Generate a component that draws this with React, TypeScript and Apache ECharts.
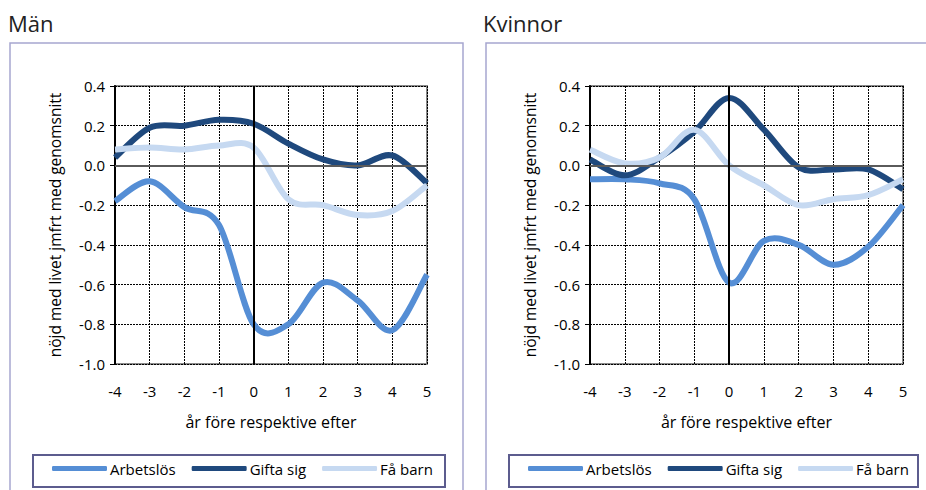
import React, { useEffect, useRef } from "react";
import * as echarts from "echarts";

const years = [-4, -3, -2, -1, 0, 1, 2, 3, 4, 5];
const seriesNames = ["Arbetslös", "Gifta sig", "Få barn"];
const seriesColors = ["#558ed5", "#1f497d", "#c6d9f1"];

const menArbetslos = [-0.18, -0.08, -0.21, -0.3, -0.8, -0.8, -0.59, -0.68, -0.83, -0.55];
const menGifta = [0.04, 0.19, 0.2, 0.23, 0.21, 0.11, 0.03, 0.0, 0.05, -0.09];
const menBarn = [0.08, 0.09, 0.08, 0.1, 0.09, -0.17, -0.2, -0.25, -0.23, -0.1];

const kvArbetslos = [-0.07, -0.07, -0.09, -0.17, -0.59, -0.38, -0.4, -0.5, -0.41, -0.2];
const kvGifta = [0.03, -0.05, 0.04, 0.17, 0.34, 0.18, -0.01, -0.02, -0.02, -0.12];
const kvBarn = [0.08, 0.01, 0.04, 0.18, 0.0, -0.1, -0.2, -0.17, -0.15, -0.07];

const panelTitles = ["Män", "Kvinnor"];
const yName = "nöjd med livet jmfrt med genomsnitt";
const xName = "år före respektive efter";

const FONT = "'Open Sans', 'Noto Sans', sans-serif";

const panels = [
  { data: [menArbetslos, menGifta, menBarn], grid: { left: 115, top: 86, width: 312, height: 278 }, box: { x: 10, y: 43, w: 453 }, legendBox: { x: 33, w: 412 }, legendLeft: 52, titleX: 8 },
  { data: [kvArbetslos, kvGifta, kvBarn], grid: { left: 590, top: 86, width: 313, height: 278 }, box: { x: 486, y: 43, w: 460 }, legendBox: { x: 509, w: 409 }, legendLeft: 528, titleX: 483 },
];

function smoothPath(pts: number[][]): string {
  const n = pts.length;
  let d = `M${pts[0][0]},${pts[0][1]}`;
  for (let i = 0; i < n - 1; i++) {
    const p0 = pts[i - 1] || pts[i];
    const p1 = pts[i];
    const p2 = pts[i + 1];
    const p3 = pts[i + 2] || pts[i + 1];
    const c1x = p1[0] + (p2[0] - p0[0]) / 6;
    const c1y = p1[1] + (p2[1] - p0[1]) / 6;
    const c2x = p2[0] - (p3[0] - p1[0]) / 6;
    const c2y = p2[1] - (p3[1] - p1[1]) / 6;
    d += ` C${c1x},${c1y} ${c2x},${c2y} ${p2[0]},${p2[1]}`;
  }
  return d;
}

export default function App() {
  const ref = useRef<HTMLDivElement>(null);
  useEffect(() => {
    if (!ref.current) return;
    const chart = echarts.init(ref.current, null, { renderer: "svg" });
    const grids: any[] = [];
    const xAxes: any[] = [];
    const yAxes: any[] = [];
    const series: any[] = [];
    const legends: any[] = [];
    const graphics: any[] = [];

    panels.forEach((p, i) => {
      grids.push({ ...p.grid, show: true, borderColor: "#8a8a8a", borderWidth: 2, backgroundColor: "transparent" });
      xAxes.push({
        type: "value",
        gridIndex: i,
        min: -4,
        max: 5,
        interval: 1,
        name: xName,
        nameLocation: "middle",
        nameGap: 50,
        nameTextStyle: { fontFamily: FONT, fontSize: 16, color: "#000" },
        axisLine: { show: false, onZero: false },
        axisTick: { show: false },
        axisLabel: { margin: 19, fontFamily: FONT, fontSize: 15, color: "#000" },
        splitLine: { show: true, lineStyle: { color: "#000", width: 1, type: [2, 1] } },
      });
      yAxes.push({
        type: "value",
        gridIndex: i,
        min: -1,
        max: 0.4,
        interval: 0.2,
        name: yName,
        nameLocation: "middle",
        nameGap: 52,
        nameTextStyle: { fontFamily: FONT, fontSize: 15.5, color: "#000" },
        axisLine: { show: true, onZero: false, lineStyle: { color: "#000", width: 2 } },
        axisTick: { show: true, inside: false, length: 5, lineStyle: { color: "#000" } },
        axisLabel: {
          margin: 10,
          fontFamily: FONT,
          fontSize: 15,
          color: "#000",
          formatter: (v: number) => v.toFixed(1),
        },
        splitLine: { show: true, lineStyle: { color: "#000", width: 1, type: [2, 1] } },
      });
      series.push({
        type: "line",
        name: "__ref" + i,
        xAxisIndex: i,
        yAxisIndex: i,
        data: [],
        z: 1,
        silent: true,
        markLine: {
          silent: true,
          symbol: "none",
          label: { show: false },
          animation: false,
          data: [
            { yAxis: 0, lineStyle: { color: "#5a5a5a", width: 2, type: "solid" } },
            { xAxis: 0, lineStyle: { color: "#000", width: 2, type: "solid" } },
          ],
        },
      });
      p.data.forEach((vals, k) => {
        const color = seriesColors[k];
        series.push({
          type: "custom",
          name: seriesNames[k],
          coordinateSystem: "cartesian2d",
          xAxisIndex: i,
          yAxisIndex: i,
          data: years.map((x, j) => [x, vals[j]]),
          encode: { x: 0, y: 1 },
          z: 3,
          silent: true,
          itemStyle: { color },
          renderItem: (params: any, api: any) => {
            if (params.dataIndex !== 0) return null;
            const pts = years.map((x, j) => api.coord([x, vals[j]]));
            return {
              type: "path",
              shape: { pathData: smoothPath(pts) },
              style: { fill: "none", stroke: color, lineWidth: 6, lineJoin: "round" },
            };
          },
        });
      });
      legends.push({
        data: seriesNames,
        left: p.legendLeft,
        top: 461,
        orient: "horizontal",
        icon: "roundRect",
        itemWidth: 55,
        itemHeight: 5,
        itemGap: 16,
        selectedMode: false,
        padding: 0,
        textStyle: { fontFamily: FONT, fontSize: 15, color: "#000", padding: [0, 0, 0, -2] },
      });
      graphics.push({
        type: "rect",
        shape: { x: p.box.x, y: p.box.y, width: p.box.w, height: 470 },
        style: { fill: "none", stroke: "#a6a6cf", lineWidth: 1.5 },
        silent: true,
        z: -1,
      });
      graphics.push({
        type: "rect",
        shape: { x: p.legendBox.x, y: 455, width: p.legendBox.w, height: 32 },
        style: { fill: "none", stroke: "#5c5c8e", lineWidth: 2 },
        silent: true,
      });
      graphics.push({
        type: "text",
        x: p.titleX,
        y: 12,
        style: { text: panelTitles[i], font: `22px ${FONT}`, fill: "#222" },
        silent: true,
      });
    });

    chart.setOption({
      animation: false,
      backgroundColor: "#fff",
      grid: grids,
      xAxis: xAxes,
      yAxis: yAxes,
      series,
      legend: legends,
      graphic: graphics,
    });
    return () => chart.dispose();
  }, []);
  return (
    <div style={{ position: "absolute", left: 0, top: 0, width: 926, height: 490 }}>
      <div ref={ref} style={{ width: 926, height: 490 }} />
    </div>
  );
}
